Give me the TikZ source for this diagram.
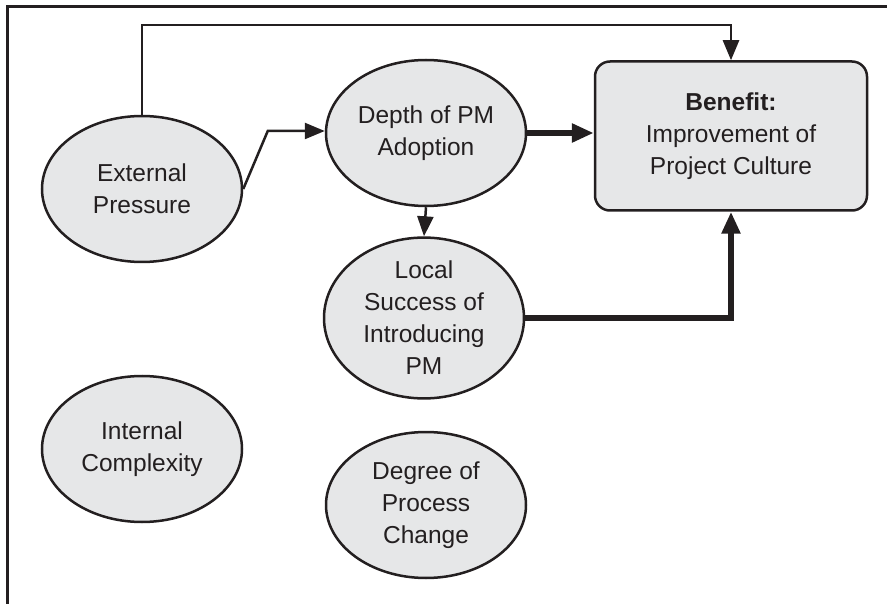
\documentclass[tikz,border=0pt]{standalone}
\usepackage{fontspec}
\setmainfont{Liberation Sans}
\usetikzlibrary{shapes.geometric,arrows.meta,calc}
\definecolor{ink}{RGB}{35,31,32}
\definecolor{shade}{RGB}{230,231,232}
\begin{document}
\begin{tikzpicture}[x=1pt,y=-1pt,
  factor/.style={ellipse,draw=ink,fill=shade,line width=2.5pt,
    minimum width=200pt,minimum height=146pt,inner sep=0pt,
    align=center,text=ink,font=\fontsize{24.5}{32}\selectfont},
  outcome/.style={rectangle,rounded corners=15pt,draw=ink,fill=shade,
    line width=2.5pt,minimum width=272pt,minimum height=149pt,
    align=center,text=ink,font=\fontsize{24.5}{32}\selectfont},
  thinlink/.style={draw=ink,line width=2.5pt,
    -{Triangle[length=20pt,width=16pt]}},
  thicklink/.style={draw=ink,line width=5.5pt,
    -{Triangle[length=22pt,width=18pt]}}]
\useasboundingbox (0,0) rectangle (887,604);
% open frame: top and left edges only
\draw[ink,line width=3pt] (7,604) -- (7,7) -- (887,7);

\node[factor] (ext) at (142,189) {External\\Pressure};
\node[factor] (dep) at (426,133) {Depth of PM\\Adoption};
\node[factor] (loc) at (424,318) {Local\\Success of\\Introducing\\PM};
\node[factor] (int) at (142,449) {Internal\\Complexity};
\node[factor] (deg) at (426,505) {Degree of\\Process\\Change};
\node[outcome] (ben) at (731,136) {\textbf{Benefit:}\\Improvement of\\Project Culture};

\coordinate (topy) at (0,25);
\coordinate (kink) at ($(dep.west)+(-57,-2)$);

\draw[thinlink] (ext.north) -- (ext.north |- topy) -| (ben.north);
\draw[thinlink] (ext.east) -- (kink) -- (kink -| dep.west);
\draw[thicklink] (dep.east) -- (ben.west |- dep.east);
\draw[thinlink] (dep.south) -- (loc.north);
\draw[thicklink] (loc.east) -| (ben.south);
\end{tikzpicture}
\end{document}
